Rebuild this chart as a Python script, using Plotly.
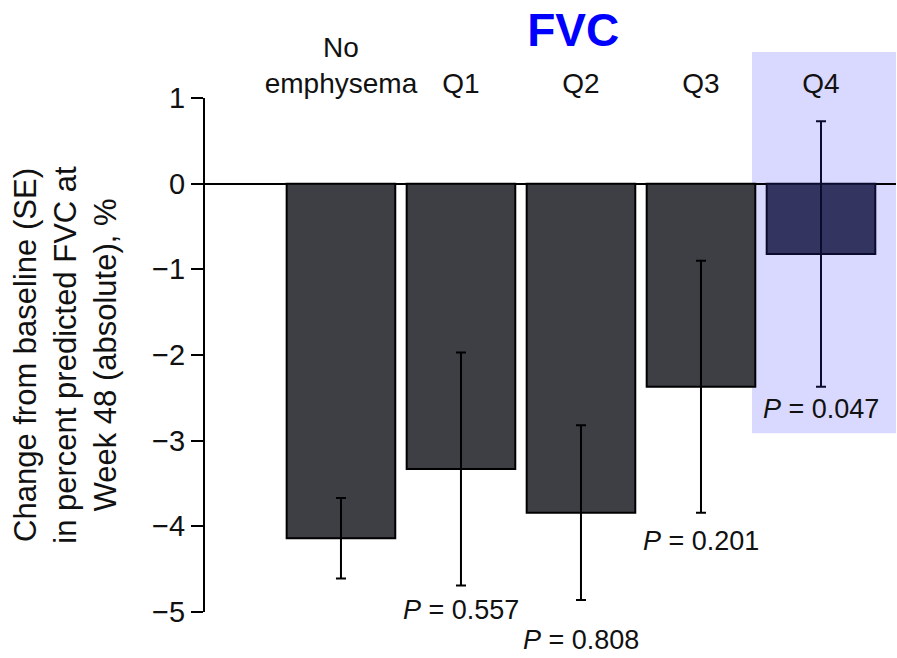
import plotly.graph_objects as go

# Change from baseline in percent predicted FVC at week 48, by emphysema extent
categories = ["No emphysema", "Q1", "Q2", "Q3", "Q4"]
tick_labels = ["No<br>emphysema", "Q1", "Q2", "Q3", "Q4"]
change = [-4.14, -3.33, -3.84, -2.37, -0.82]
se = [0.47, 1.36, 1.02, 1.47, 1.55]
p_labels = ["", "0.557", "0.808", "0.201", "0.047"]

# styling
bar_colors = ["#3e3f44", "#3e3f44", "#3e3f44", "#3e3f44", "#33345f"]
edge_colors = ["#000000", "#000000", "#000000", "#000000", "#0b0b2e"]
p_offsets = [0, 25, 40, 28, 22]  # px below the lower error-bar end
FONT = "Liberation Sans, Arial, Helvetica, sans-serif"

fig = go.Figure()

for i, cat in enumerate(categories):
    fig.add_trace(go.Bar(
        x=[cat], y=[change[i]],
        width=0.905,
        marker=dict(color=bar_colors[i], line=dict(color=edge_colors[i], width=2)),
        error_y=dict(type="data", array=[se[i]], visible=True,
                     color=edge_colors[i], thickness=2, width=5),
        showlegend=False,
        hovertemplate="%{x}: %{y:.2f}%<extra></extra>",
    ))

# highlight band behind the Q4 group
fig.add_shape(type="rect", xref="x", yref="paper",
              x0=3.425, x1=4.63, y0=0.348, y1=1.0895,
              fillcolor="#d9d9ff", line=dict(width=0), layer="below")

for i, cat in enumerate(categories):
    if not p_labels[i]:
        continue
    fig.add_annotation(
        x=cat, y=change[i] - se[i], yshift=-p_offsets[i],
        text="<i>P</i> = " + p_labels[i], showarrow=False,
        xanchor="center", yanchor="middle",
        font=dict(family=FONT, size=27, color="#111111"),
    )

fig.update_layout(
    width=897, height=658,
    margin=dict(l=205, r=1, t=98, b=46),
    paper_bgcolor="white", plot_bgcolor="rgba(0,0,0,0)",
    bargap=0.1,
    font=dict(family=FONT, color="#111111"),
    title=dict(text="<b>FVC</b>", x=0.639, xanchor="center",
               y=0.955, yanchor="middle",
               font=dict(family=FONT, size=46, color="#0000ff")),
    xaxis=dict(
        type="category", categoryorder="array", categoryarray=categories,
        range=[-1.133, 4.625], side="top",
        tickmode="array", tickvals=categories, ticktext=tick_labels,
        tickfont=dict(size=28, color="#111111"),
        showline=False, showgrid=False, zeroline=False, ticks="",
        ticklabelstandoff=-2,
    ),
    yaxis=dict(
        range=[-5, 1], tickvals=[1, 0, -1, -2, -3, -4, -5],
        tickfont=dict(size=29, color="#111111"),
        showline=True, linecolor="black", linewidth=2,
        ticks="outside", ticklen=12, tickwidth=2, tickcolor="black",
        showgrid=False, zeroline=True, zerolinecolor="black", zerolinewidth=2,
        title=dict(text="Change from baseline (SE)<br>in percent predicted FVC at<br>Week 48 (absolute), %",
                   font=dict(size=31, color="#111111"), standoff=26),
    ),
)

fig.write_html("out.html")
